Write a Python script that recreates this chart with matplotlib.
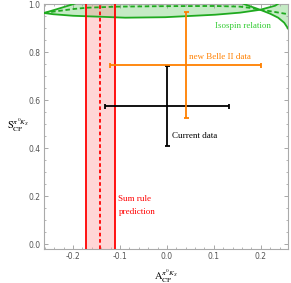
import matplotlib
matplotlib.use("Agg")
import matplotlib.pyplot as plt
from matplotlib.patches import Polygon
from matplotlib.ticker import MultipleLocator

plt.rcParams['mathtext.fontset'] = 'stix'

# ---- data ----
xlim = (-0.262, 0.258)
ylim = (-0.02, 1.0)

# Sum-rule prediction band
sum_rule_lo = -0.172
sum_rule_hi = -0.111
sum_rule_c = -0.142

# Current data point
cur_A, cur_S = 0.0, 0.575
cur_dA, cur_dS = 0.132, 0.166

# New Belle II projection
bel_A, bel_S = 0.04, 0.746
bel_dA, bel_dS = 0.161, 0.22

# Isospin relation curves
lowA_x = [-0.262, -0.2426, -0.2, -0.1424, -0.089, -0.0038, 0.1028, 0.156, 0.1987, 0.2307, 0.237, 0.25]
lowA_y = [0.9625, 0.9575, 0.951, 0.947, 0.943, 0.945, 0.9554, 0.964, 0.976, 0.993, 1.001, 1.03]
upL_x = [-0.262, -0.232, -0.2021, -0.17]
upL_y = [0.9625, 0.980, 0.998, 1.02]
curB_x = [0.1454, 0.1667, 0.1987, 0.220, 0.2371, 0.2499, 0.2584, 0.2733]
curB_y = [1.018, 0.998, 0.976, 0.9596, 0.9429, 0.9221, 0.8971, 0.851]
dash_x = [-0.262, -0.2426, -0.2, -0.170, -0.106, -0.0038, 0.1028, 0.156, 0.177, 0.1987, 0.22, 0.2584]
dash_y = [0.9625, 0.968, 0.979, 0.9846, 0.989, 0.991, 0.9917, 0.989, 0.984, 0.976, 0.970, 0.9575]

green = '#1faa1f'
green_fill = (0.55, 0.85, 0.55, 0.5)
red = '#ff0000'
orange = '#ff8000'

fig = plt.figure(figsize=(2.91, 2.83), dpi=100)
ax = fig.add_axes([44/291, 1-249/283, (288-44)/291, (249-4)/283])

# isospin region (figure-8 polygon)
poly = list(zip(lowA_x, lowA_y)) + [(0.32, 1.03), (0.32, 0.8)] + \
    list(zip(curB_x[::-1], curB_y[::-1])) + [(-0.17, 1.03)] + list(zip(upL_x[::-1], upL_y[::-1]))
ax.add_patch(Polygon(poly, closed=True, facecolor=green_fill, edgecolor='none', zorder=1))
ax.plot(lowA_x, lowA_y, color=green, lw=1.3, zorder=3)
ax.plot(upL_x, upL_y, color=green, lw=1.3, zorder=3)
ax.plot(curB_x, curB_y, color=green, lw=1.3, zorder=3)
ax.plot(dash_x, dash_y, color=green, lw=1.3, ls=(0, (2.5, 1.5)), zorder=3)

# sum rule band
ax.axvspan(sum_rule_lo, sum_rule_hi, color=(1, 0.6, 0.6, 0.4), lw=0, zorder=2)
ax.axvline(sum_rule_lo, color=red, lw=1.3, zorder=4)
ax.axvline(sum_rule_hi, color=red, lw=1.3, zorder=4)
ax.axvline(sum_rule_c, color=red, lw=1.3, ls=(0, (2, 1.5)), zorder=4)

# error bars
ax.errorbar([cur_A], [cur_S], xerr=[cur_dA], yerr=[cur_dS], color='black', lw=1.3,
            capsize=1.8, capthick=1.3, zorder=5)
ax.errorbar([bel_A], [bel_S], xerr=[bel_dA], yerr=[bel_dS], color=orange, lw=1.3,
            capsize=1.8, capthick=1.3, zorder=5)

# text
tfont = dict(family=['Liberation Serif', 'DejaVu Serif'], fontsize=6.5)
ax.text(0.1625, 0.907, 'Isospin relation', color='#33cc33', ha='center', va='center', **tfont)
ax.text(0.048, 0.779, 'new Belle II data', color=orange, ha='left', va='center', **tfont)
ax.text(0.0103, 0.4525, 'Current data', color='black', ha='left', va='center', **tfont)
ax.text(-0.1034, 0.1875, 'Sum rule', color=red, ha='left', va='center', **tfont)
ax.text(-0.1034, 0.132, 'prediction', color=red, ha='left', va='center', **tfont)

ax.set_xlim(*xlim)
ax.set_ylim(*ylim)
ax.xaxis.set_minor_locator(MultipleLocator(0.02))
ax.yaxis.set_minor_locator(MultipleLocator(0.05))
ax.set_xticks([-0.2, -0.1, 0.0, 0.1, 0.2])
ax.set_xticklabels(['-0.2', '-0.1', '0.0', '0.1', '0.2'])
ax.set_yticks([0.0, 0.2, 0.4, 0.6, 0.8, 1.0])
ax.set_yticklabels(['0.0', '0.2', '0.4', '0.6', '0.8', '1.0'])
ax.tick_params(which='both', direction='in', top=True, right=True, color='#999999',
               labelsize=5.5, labelcolor='#555555', pad=2.5)
ax.tick_params(which='major', length=3, width=0.6)
ax.tick_params(which='minor', length=1.6, width=0.5)
for s in ax.spines.values():
    s.set_color('#aaaaaa')
    s.set_linewidth(0.8)

ax.set_xlabel(r'$\mathrm{A}_{\mathrm{CP}}^{\pi^0 K_S}$', fontsize=7.5, labelpad=4)
ax.set_ylabel(r'$\mathrm{S}_{\mathrm{CP}}^{\pi^0 K_S}$', fontsize=7.5, rotation=0, labelpad=10)
ax.yaxis.set_label_coords(-0.105, 0.47)

fig.savefig('out.png', dpi=100)
